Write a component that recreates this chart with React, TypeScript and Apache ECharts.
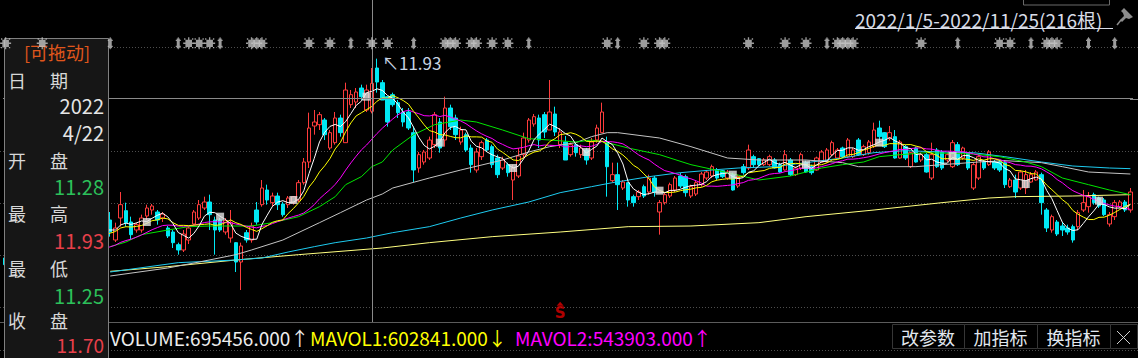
import React, { useEffect, useRef } from "react";
import * as echarts from "echarts";

const DATE_RANGE = "2022/1/5-2022/11/25(216根)";
const SELECTED_INDEX = 70; // 2022/4/22
const CROSSHAIR_PRICE = 11.47;
const HIGH_LABEL = "↖11.93";

// [open, close, low, high]
const candles: number[][] = [
  [9.08, 8.98, 8.93, 9.13], [8.96, 9.02, 8.93, 9.08], [9.08, 9.05, 9.01, 9.13], [9.02, 9.08, 8.98, 9.13],
  [9.10, 9.02, 8.98, 9.13], [9.02, 8.98, 8.93, 9.05], [8.96, 9.01, 8.93, 9.02], [9.01, 9.05, 8.98, 9.08],
  [9.04, 9.08, 9.01, 9.13], [9.10, 9.02, 8.99, 9.13], [9.02, 9.13, 8.99, 9.17], [9.13, 9.28, 9.10, 9.31],
  [9.26, 9.35, 9.23, 9.41], [9.35, 9.43, 9.32, 9.47], [9.41, 9.47, 9.38, 9.53], [9.46, 9.50, 9.41, 9.56],
  [9.49, 9.53, 9.44, 9.58], [9.53, 9.50, 9.46, 9.58], [9.52, 9.47, 9.43, 9.56], [9.47, 9.53, 9.44, 9.58],
  [9.65, 9.47, 9.40, 9.77], [9.35, 9.53, 9.32, 9.61], [9.68, 9.88, 9.55, 10.07], [9.79, 9.61, 9.55, 9.91],
  [9.62, 9.43, 9.35, 9.70], [9.50, 9.58, 9.46, 9.61], [9.50, 9.68, 9.46, 9.73], [9.71, 9.83, 9.65, 9.88],
  [9.80, 9.86, 9.73, 9.89], [9.77, 9.65, 9.58, 9.80], [9.68, 9.74, 9.62, 9.77], [9.53, 9.41, 9.38, 9.56],
  [9.47, 9.31, 9.23, 9.50], [9.28, 9.20, 9.13, 9.31], [9.20, 9.44, 9.17, 9.50], [9.35, 9.53, 9.29, 9.56],
  [9.59, 9.77, 9.58, 9.80], [9.68, 9.88, 9.65, 9.95], [9.83, 9.92, 9.80, 10.00], [9.92, 9.73, 9.50, 10.03],
  [9.65, 9.50, 9.13, 9.70], [9.65, 9.50, 9.47, 9.68], [9.47, 9.64, 9.43, 9.68], [9.38, 9.61, 9.31, 9.80],
  [9.31, 9.02, 8.87, 9.32], [9.02, 9.26, 8.60, 9.31], [9.46, 9.35, 9.31, 9.50], [9.35, 9.56, 9.31, 9.61],
  [9.80, 9.62, 9.58, 9.92], [9.88, 10.13, 9.85, 10.25], [10.10, 9.95, 9.88, 10.18], [9.91, 10.01, 9.85, 10.06],
  [10.01, 9.88, 9.80, 10.06], [9.89, 9.73, 9.70, 9.92], [9.88, 9.98, 9.83, 10.01], [9.91, 10.00, 9.88, 10.01],
  [9.95, 10.21, 9.92, 10.25], [10.21, 10.52, 10.18, 10.58], [10.52, 11.03, 10.43, 11.26], [11.06, 11.12, 10.93, 11.30],
  [11.08, 11.23, 11.00, 11.27], [11.15, 10.93, 10.85, 11.18], [10.73, 10.96, 10.70, 11.00], [10.81, 11.18, 10.78, 11.27],
  [11.18, 10.96, 10.90, 11.23], [10.81, 11.60, 10.81, 11.71], [11.38, 11.53, 11.33, 11.60], [11.42, 11.57, 11.33, 11.63],
  [11.63, 11.50, 11.45, 11.68], [11.30, 11.60, 11.27, 11.68], [11.28, 11.70, 11.25, 11.93], [11.93, 11.72, 11.56, 12.07],
  [11.71, 11.45, 11.45, 11.75], [11.50, 11.12, 11.05, 11.50], [11.53, 11.38, 11.35, 11.56], [11.41, 11.26, 11.18, 11.45],
  [11.27, 11.12, 11.05, 11.33], [11.27, 11.03, 11.00, 11.33], [10.96, 10.40, 10.22, 11.05], [10.43, 10.63, 10.36, 10.67],
  [10.52, 10.67, 10.48, 10.70], [10.58, 10.85, 10.55, 10.90], [10.78, 11.23, 10.73, 11.27], [11.12, 10.73, 10.66, 11.18],
  [10.85, 11.33, 10.75, 11.50], [11.33, 11.05, 11.00, 11.38], [11.18, 10.93, 10.85, 11.23], [10.82, 11.00, 10.78, 11.05],
  [10.93, 10.70, 10.67, 10.96], [10.73, 10.48, 10.36, 10.78], [10.40, 10.67, 10.36, 10.73], [10.60, 10.81, 10.55, 10.84],
  [10.85, 10.70, 10.67, 10.88], [10.75, 10.48, 10.43, 10.78], [10.58, 10.33, 10.28, 10.63], [10.43, 10.55, 10.40, 10.60],
  [10.48, 10.36, 10.30, 10.51], [10.25, 10.43, 9.95, 10.48], [10.31, 10.61, 10.28, 10.73], [10.63, 10.88, 10.58, 10.96],
  [10.85, 11.15, 10.81, 11.18], [11.09, 11.20, 11.05, 11.24], [11.18, 10.85, 10.73, 11.23], [11.23, 10.97, 10.88, 11.27],
  [11.00, 11.27, 11.00, 11.75], [11.24, 10.97, 10.91, 11.35], [10.78, 10.97, 10.73, 11.03], [10.82, 10.55, 10.55, 10.91],
  [10.63, 10.78, 10.60, 10.81], [10.78, 10.66, 10.60, 10.81], [10.63, 10.73, 10.58, 10.78], [10.70, 10.55, 10.48, 10.73],
  [10.58, 10.82, 10.55, 10.88], [10.85, 11.03, 10.81, 11.08], [10.96, 11.27, 10.96, 11.41], [10.81, 10.45, 10.00, 10.90],
  [10.24, 10.33, 10.21, 10.51], [10.33, 10.18, 9.80, 10.51], [10.13, 10.22, 10.10, 10.25], [10.21, 9.95, 9.85, 10.22],
  [10.00, 9.91, 9.85, 10.03], [10.00, 10.07, 9.95, 10.10], [10.15, 10.01, 9.98, 10.18], [10.07, 10.28, 10.03, 10.33],
  [10.28, 10.07, 10.00, 10.31], [9.77, 9.91, 9.43, 9.95], [9.91, 10.03, 9.88, 10.06], [10.01, 10.18, 9.98, 10.21],
  [10.10, 10.28, 10.07, 10.31], [10.31, 10.16, 10.13, 10.36], [10.30, 10.06, 10.00, 10.33], [10.01, 10.15, 9.98, 10.18],
  [10.04, 10.21, 10.01, 10.24], [10.18, 10.34, 10.15, 10.37], [10.28, 10.37, 10.25, 10.40], [10.31, 10.45, 10.28, 10.48],
  [10.40, 10.28, 10.25, 10.43], [10.39, 10.30, 10.28, 10.40], [10.28, 10.37, 10.25, 10.40], [10.33, 10.10, 10.09, 10.36],
  [10.16, 10.30, 10.13, 10.33], [10.45, 10.36, 10.33, 10.49], [10.43, 10.70, 10.40, 10.78], [10.60, 10.48, 10.43, 10.63],
  [10.57, 10.48, 10.46, 10.58], [10.48, 10.55, 10.46, 10.58], [10.48, 10.60, 10.46, 10.63], [10.55, 10.43, 10.42, 10.58],
  [10.48, 10.37, 10.36, 10.51], [10.40, 10.63, 10.39, 10.70], [10.55, 10.33, 10.31, 10.58], [10.33, 10.43, 10.31, 10.45],
  [10.43, 10.63, 10.40, 10.66], [10.51, 10.37, 10.36, 10.54], [10.45, 10.36, 10.33, 10.48], [10.40, 10.58, 10.39, 10.60],
  [10.52, 10.67, 10.51, 10.70], [10.52, 10.70, 10.51, 10.73], [10.63, 10.81, 10.61, 10.84], [10.58, 10.70, 10.57, 10.73],
  [10.73, 10.60, 10.58, 10.75], [10.60, 10.85, 10.58, 10.88], [10.60, 10.70, 10.58, 10.73], [10.85, 10.63, 10.61, 10.88],
  [10.63, 10.75, 10.61, 10.78], [10.66, 10.82, 10.63, 10.85], [10.75, 11.00, 10.73, 11.11], [11.03, 10.90, 10.81, 11.14],
  [10.96, 10.75, 10.73, 10.97], [10.88, 10.96, 10.84, 11.06], [10.90, 10.58, 10.57, 11.00], [10.58, 10.82, 10.57, 10.85],
  [10.75, 10.58, 10.55, 10.78], [10.45, 10.66, 10.43, 10.67], [10.73, 10.52, 10.51, 10.75], [10.55, 10.63, 10.52, 10.66],
  [10.63, 10.37, 10.36, 10.66], [10.28, 10.63, 10.25, 10.81], [10.70, 10.45, 10.43, 10.73], [10.67, 10.43, 10.40, 10.70],
  [10.55, 10.63, 10.52, 10.66], [10.45, 10.81, 10.43, 10.85], [10.78, 10.48, 10.46, 10.82], [10.58, 10.73, 10.55, 10.75],
  [10.66, 10.43, 10.40, 10.67], [10.13, 10.48, 10.10, 10.51], [10.28, 10.60, 10.25, 10.63], [10.52, 10.43, 10.40, 10.55],
  [10.48, 10.67, 10.46, 10.70], [10.52, 10.43, 10.40, 10.55], [10.52, 10.40, 10.37, 10.55], [10.51, 10.18, 10.13, 10.55],
  [10.15, 10.25, 10.13, 10.28], [10.25, 10.07, 9.98, 10.33], [10.13, 10.37, 10.10, 10.40], [10.13, 10.33, 10.04, 10.40],
  [10.22, 10.33, 10.21, 10.37], [10.25, 10.37, 10.24, 10.40], [10.33, 9.91, 9.73, 10.36], [9.80, 9.53, 9.47, 9.83],
  [9.50, 9.70, 9.46, 9.73], [9.62, 9.44, 9.41, 9.65], [9.56, 9.50, 9.41, 9.62], [9.53, 9.47, 9.43, 9.58],
  [9.55, 9.35, 9.31, 9.58], [9.55, 9.76, 9.50, 9.80], [9.80, 9.91, 9.77, 10.10], [9.85, 10.00, 9.76, 10.07],
  [10.03, 9.91, 9.88, 10.06], [9.98, 9.86, 9.83, 10.00], [9.95, 9.73, 9.71, 9.98], [9.59, 9.73, 9.55, 9.77],
  [9.70, 9.91, 9.65, 9.95], [9.85, 9.92, 9.83, 9.95], [9.92, 9.80, 9.77, 9.95], [9.80, 10.07, 9.76, 10.13],
];

// long moving averages: [candle index, value]
const ma30Points: number[][] = [
  [20, 9.25], [23, 9.32], [26, 9.43], [31, 9.5], [35, 9.55], [39, 9.56], [44, 9.56], [47, 9.56], [51, 9.61],
  [56, 9.7], [60, 9.85], [63, 10.0], [65, 10.18], [68, 10.3], [70, 10.45], [72, 10.52], [74, 10.7], [78, 10.93],
  [82, 11.08], [87, 11.15], [90, 11.12], [95, 11.0], [100, 10.87], [104, 10.85], [109, 10.82], [112, 10.85],
  [115, 10.81], [119, 10.73], [125, 10.63], [131, 10.48], [138, 10.36], [144, 10.25], [150, 10.31], [156, 10.43],
  [160, 10.48], [164, 10.52], [167, 10.6], [171, 10.63], [176, 10.66], [185, 10.64], [190, 10.6], [195, 10.52],
  [198, 10.45], [202, 10.28], [207, 10.18], [211, 10.1], [215, 10.03],
];
const ma60Points: number[][] = [
  [20, 8.81], [31, 8.93], [37, 9.02], [44, 9.13], [47, 9.2], [53, 9.35], [60, 9.61], [64, 9.76], [69, 9.95],
  [72, 10.04], [74, 10.13], [81, 10.28], [87, 10.4], [95, 10.55], [100, 10.67], [104, 10.75], [109, 10.81],
  [112, 10.9], [115, 10.96], [117, 10.96], [125, 10.88], [131, 10.75], [138, 10.58], [144, 10.55], [153, 10.55],
  [160, 10.51], [163, 10.45], [174, 10.45], [179, 10.48], [186, 10.52], [191, 10.54], [198, 10.51], [202, 10.45],
  [207, 10.37], [215, 10.34],
];
const ma120Points: number[][] = [
  [20, 8.87], [33, 9.01], [44, 9.05], [49, 9.08], [54, 9.17], [59, 9.25], [63, 9.31], [69, 9.38], [74, 9.46],
  [81, 9.55], [87, 9.68], [93, 9.8], [100, 9.92], [106, 10.06], [112, 10.15], [116, 10.21], [123, 10.3],
  [129, 10.36], [135, 10.4], [140, 10.43], [147, 10.45], [153, 10.51], [160, 10.58], [166, 10.66], [172, 10.69],
  [179, 10.67], [185, 10.66], [191, 10.6], [198, 10.52], [204, 10.46], [211, 10.43], [215, 10.42],
];
const ma250Points: number[][] = [
  [20, 8.88], [31, 8.95], [44, 9.05], [56, 9.13], [72, 9.23], [81, 9.31], [93, 9.4], [106, 9.47], [119, 9.55],
  [131, 9.56], [144, 9.61], [153, 9.7], [166, 9.8], [179, 9.91], [188, 9.98], [193, 10.0], [204, 10.01], [215, 10.03],
];

// every 14th bar carries a light square marker
const cycleMarks: number[][] = [
  [27, 9.62], [41, 9.7], [55, 9.95], [69, 11.5], [83, 10.81], [97, 10.43], [111, 10.67], [125, 10.09],
  [139, 10.33], [153, 10.48], [167, 10.81], [181, 10.61], [195, 10.19], [209, 9.94],
];
// signal row along the top
const wideSignals = [0, 7, 35, 37, 39, 47, 48, 49, 58, 62, 70, 73, 84, 85, 86, 89, 90, 93, 96, 115, 122, 125, 126,
  142, 149, 153, 159, 160, 161, 162, 175, 190, 192, 199, 200, 201];
const narrowSignals = [20, 33, 41, 66, 78, 100, 117, 157, 182, 196, 207, 212];
const SIGNAL_LEVEL = 12.3;
const sellSignals = [106];
const SELL_LEVEL = 8.26;

const dateLabel = ["日", "期"];
const dateValues = ["2022", "4/22"];
const infoLabels = [["开", "盘"], ["最", "高"], ["最", "低"], ["收", "盘"]];
const infoValues = ["11.28", "11.93", "11.25", "11.70"];
const infoColors = ["#2cc05a", "#e8404a", "#2cc05a", "#e8404a"];

const VOLUME_TEXT = "VOLUME:695456.000↑";
const MAVOL1_TEXT = "MAVOL1:602841.000↓";
const MAVOL2_TEXT = "MAVOL2:543903.000↑";
const buttons = ["改参数", "加指标", "换指标"];

function movingAverage(period: number, closes: number[]) {
  return closes.map((_, i) => {
    if (i < period - 1) return "-";
    let s = 0;
    for (let k = i - period + 1; k <= i; k++) s += closes[k];
    return +(s / period).toFixed(3);
  });
}

const FONT = '"Noto Sans CJK SC", "Noto Sans", "DejaVu Sans", sans-serif';

export default function App() {
  const ref = useRef<HTMLDivElement>(null);
  useEffect(() => {
    document.body.style.margin = "0";
    document.body.style.background = "#000";
    const chart = echarts.init(ref.current!, null, { renderer: "svg" });
    const closes = candles.map((c) => c[1]);
    const categories = candles.map((_, i) => String(i));

    const gridYs = [47, 151, 203, 255, 307, 350];
    const graphics: any[] = [];
    gridYs.forEach((y) =>
      graphics.push({
        type: "line", z: 0, silent: true,
        shape: { x1: 0, y1: y + 0.5, x2: 1138, y2: y + 0.5 },
        style: { stroke: "#4e4e4e", lineWidth: 1, lineDash: [1, 2] },
      })
    );
    graphics.push({
      type: "line", z: 0, silent: true,
      shape: { x1: 0, y1: 322.5, x2: 1138, y2: 322.5 },
      style: { stroke: "#5c5c5c", lineWidth: 1 },
    });
    graphics.push({
      type: "line", z: 1, silent: true,
      shape: { x1: 1130, y1: 99.5, x2: 1138, y2: 99.5 },
      style: { stroke: "#8a8a8a", lineWidth: 1 },
    });
    // left info panel
    graphics.push({
      type: "rect", z: 100,
      shape: { x: 4.5, y: 38.5, width: 104, height: 330 },
      style: { fill: "#161616", stroke: "#808080", lineWidth: 1 },
    });
    const t = (text: string, x: number, y: number, fill: string, size: number, align = "left", z = 101) => ({
      type: "text", z, x, y,
      style: { text, fill, font: `${size}px ${FONT}`, textAlign: align, textVerticalAlign: "middle" },
    });
    graphics.push(t("[可拖动]", 57, 52, "#e0561c", 18, "center"));
    graphics.push(t(dateLabel[0], 8, 80, "#d8d8d8", 18));
    graphics.push(t(dateLabel[1], 50, 80, "#d8d8d8", 18));
    graphics.push(t(dateValues[0], 104, 105, "#e6e6e6", 20, "right"));
    graphics.push(t(dateValues[1], 104, 132, "#e6e6e6", 20, "right"));
    const rowYs = [160, 213, 268, 320];
    const valYs = [186, 240, 295, 344];
    infoLabels.forEach((lab, k) => {
      graphics.push(t(lab[0], 8, rowYs[k], "#d8d8d8", 18));
      graphics.push(t(lab[1], 50, rowYs[k], "#d8d8d8", 18));
      graphics.push(t(infoValues[k], 104, valYs[k], infoColors[k], k === 3 ? 19 : 20, "right"));
    });
    // volume legend row
    graphics.push(t(VOLUME_TEXT, 110, 337, "#ececec", 19));
    graphics.push(t(MAVOL1_TEXT, 310, 337, "#ffff00", 19));
    graphics.push(t(MAVOL2_TEXT, 515, 337, "#ff00ff", 19));
    // buttons
    const bx = [892, 964, 1037];
    const bw = [72, 73, 73];
    buttons.forEach((b, k) => {
      graphics.push({
        type: "rect", z: 50,
        shape: { x: bx[k] + 0.5, y: 324.5, width: bw[k], height: 24 },
        style: { fill: "#000", stroke: "#363636", lineWidth: 1 },
      });
      graphics.push(t(b, bx[k] + bw[k] / 2, 337, "#e2e8ef", 18, "center", 51));
    });
    graphics.push({
      type: "rect", z: 50,
      shape: { x: 1110.5, y: 324.5, width: 27, height: 24 },
      style: { fill: "#000", stroke: "#363636", lineWidth: 1 },
    });
    graphics.push({ type: "line", z: 51, shape: { x1: 1117, y1: 331, x2: 1130, y2: 344 }, style: { stroke: "#d0d0d0", lineWidth: 1 } });
    graphics.push({ type: "line", z: 51, shape: { x1: 1130, y1: 331, x2: 1117, y2: 344 }, style: { stroke: "#d0d0d0", lineWidth: 1 } });
    // date range title
    graphics.push(t(DATE_RANGE, 855, 19, "#d8dce6", 19));
    graphics.push({ type: "line", z: 51, shape: { x1: 855, y1: 28.5, x2: 1113, y2: 28.5 }, style: { stroke: "#d8dce6", lineWidth: 1 } });
    graphics.push({
      type: "polygon", z: 51,
      shape: { points: [[1124, 8], [1133, 17], [1129, 19], [1126, 18], [1122, 22], [1120, 20], [1124, 16], [1123, 13], [1121, 11]] },
      style: { fill: "#8c8c8c" },
    });
    graphics.push({ type: "line", z: 51, shape: { x1: 1121, y1: 20, x2: 1117, y2: 25 }, style: { stroke: "#8c8c8c", lineWidth: 1.5 } });
    graphics.push({
      type: "rect", z: 51,
      shape: { x: 1023.5, y: -20, width: 86, height: 25 },
      style: { fill: "#000", stroke: "#6a6a6a", lineWidth: 1 },
    });
    graphics.push(t(HIGH_LABEL, 382, 62, "#c8d4e4", 17, "left", 60));

    const wideSym =
      "path://M2,2H8V8H2Z M4.4,0H5.6V2H4.4Z M4.4,8H5.6V10H4.4Z M0,4.4H2V5.6H0Z M8,4.4H10V5.6H8Z M0.8,0.8H2V2H0.8Z M8,0.8H9.2V2H8Z M0.8,8H2V9.2H0.8Z M8,8H9.2V9.2H8Z";
    const narrowSym =
      "path://M1,1H4V9H1Z M2,0H3V10H2Z M0,2H1V3H0Z M4,2H5V3H4Z M0,7H1V8H0Z M4,7H5V8H4Z";

    const line = (name: string, data: any[], color: string) => ({
      name, type: "line", data, showSymbol: false, symbol: "none", z: 3, silent: true,
      connectNulls: true,
      lineStyle: { color, width: 1 },
    });

    const option: any = {
      animation: false,
      backgroundColor: "#000",
      grid: { left: 3, right: 5, top: 0, height: 322 },
      xAxis: {
        type: "category", data: categories, boundaryGap: true,
        axisLine: { show: false }, axisTick: { show: false }, axisLabel: { show: false }, splitLine: { show: false },
      },
      yAxis: {
        type: "value", min: 8.12, max: 12.95, scale: true,
        axisLine: { show: false }, axisTick: { show: false }, axisLabel: { show: false }, splitLine: { show: false },
      },
      graphic: { elements: graphics },
      series: [
        {
          name: "K", type: "candlestick", data: candles, barWidth: 4, z: 2, silent: true,
          itemStyle: { color: "#000000", color0: "#00e8f4", borderColor: "#ff3c3c", borderColor0: "#00e8f4", borderWidth: 1 },
          markLine: {
            silent: true, symbol: "none", animation: false,
            label: { show: false },
            lineStyle: { color: "#8a8a8a", width: 1, type: "solid" },
            data: [{ xAxis: SELECTED_INDEX }, { yAxis: CROSSHAIR_PRICE }],
          },
        },
        line("MA250", ma250Points, "#ffff80"),
        line("MA120", ma120Points, "#1ecbf0"),
        line("MA60", ma60Points, "#c4c4c4"),
        line("MA30", ma30Points, "#00e600"),
        line("MA20", movingAverage(20, closes), "#ff00ff"),
        line("MA10", movingAverage(10, closes), "#ffff00"),
        line("MA5", movingAverage(5, closes), "#ffffff"),
        {
          name: "cycle", type: "scatter", data: cycleMarks, symbol: "rect", symbolSize: 8, z: 4, silent: true,
          itemStyle: { color: "#e4e4e4" },
        },
        {
          name: "sigWide", type: "scatter", data: wideSignals.map((i) => [i, SIGNAL_LEVEL]), symbol: wideSym,
          symbolSize: [11, 12], z: 110, silent: true, itemStyle: { color: "#c4c4c4" },
        },
        {
          name: "sigNarrow", type: "scatter", data: narrowSignals.map((i) => [i, SIGNAL_LEVEL]), symbol: narrowSym,
          symbolSize: [5, 12], z: 110, silent: true, itemStyle: { color: "#c4c4c4" },
        },
        {
          name: "sell", type: "scatter", data: sellSignals.map((i) => [i, SELL_LEVEL]), symbol: "triangle",
          symbolSize: [7, 4], symbolOffset: [0, -9], z: 5, silent: true, itemStyle: { color: "#e00000" },
          label: {
            show: true, position: "bottom", distance: 0, formatter: "S", color: "#e00000",
            fontSize: 15, fontWeight: "bold", fontFamily: "DejaVu Sans", lineHeight: 14,
          },
        },
      ],
    };
    chart.setOption(option);
    return () => chart.dispose();
  }, []);
  return <div ref={ref} style={{ width: 1138, height: 358, background: "#000" }} />;
}
